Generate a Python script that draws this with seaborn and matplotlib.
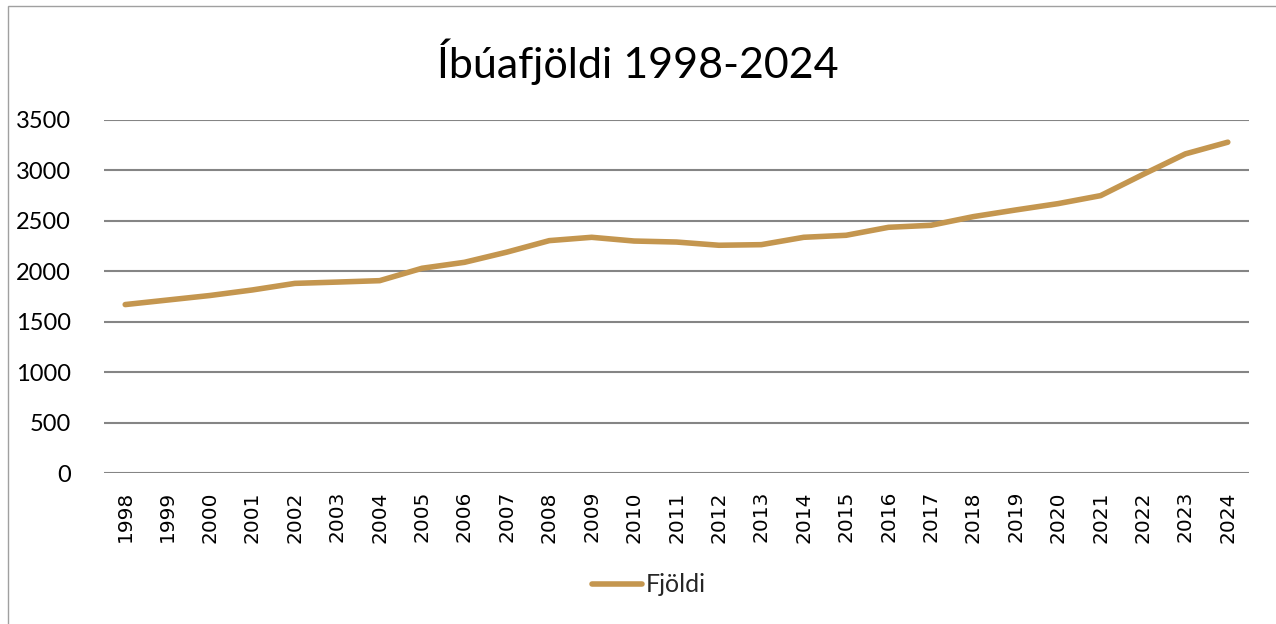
import matplotlib
matplotlib.use("Agg")
import matplotlib.pyplot as plt
import seaborn as sns
import pandas as pd
from matplotlib.patches import Rectangle

years = list(range(1998, 2025))
fjoldi = [1670, 1715, 1760, 1815, 1880, 1893, 1907, 2030, 2089, 2190, 2304, 2337,
          2300, 2290, 2258, 2264, 2337, 2357, 2436, 2456, 2542, 2608, 2671, 2750,
          2960, 3164, 3280]
title = "Íbúafjöldi 1998-2024"
series_name = "Fjöldi"
yticks = [0, 500, 1000, 1500, 2000, 2500, 3000, 3500]

df = pd.DataFrame({"Ár": years, series_name: fjoldi})

sns.set_theme(style="white")
plt.rcParams['font.family'] = ['Lato', 'DejaVu Sans']

fig = plt.figure(figsize=(12.76, 6.24), dpi=100)
ax = fig.add_axes([104/1276, 1-473/624, (1249-104)/1276, (473-120)/624])

sns.lineplot(data=df, x="Ár", y=series_name, ax=ax, color="#C4964F",
             linewidth=4.0, label=series_name, solid_capstyle="round")

ax.set_xlim(1997.5, 2024.5)
ax.set_ylim(0, 3500)
ax.set_yticks(yticks)
ax.set_yticklabels([str(v) for v in yticks], fontsize=17, color="#000000")
ax.set_xticks(years)
ax.set_xticklabels([str(y) for y in years], rotation=90, fontsize=14.5,
                   family=['DejaVu Sans'], color="#000000")
ax.tick_params(axis="y", length=0, pad=24)
ax.tick_params(axis="x", length=0, pad=13)
ax.set_xlabel("")
ax.set_ylabel("")
for s in ax.spines.values():
    s.set_visible(False)
ax.yaxis.grid(True, color="#858585", linewidth=1.5)
ax.set_axisbelow(True)

fig.text(0.5, 1-62/624, title, ha="center", va="center", fontsize=31, color="#000000")

leg = ax.legend(loc="center", bbox_to_anchor=(0.5 + 11/1276, 1-585/624), bbox_transform=fig.transFigure,
                frameon=False, fontsize=18, handlelength=2.0, handletextpad=0.15)

fig.patches.append(Rectangle((8/1276, -0.01), 1.0, 1-6/624+0.01, transform=fig.transFigure,
                             fill=False, edgecolor="#a0a0a0", linewidth=1.0))

fig.savefig("out.png", dpi=100, facecolor="white")
